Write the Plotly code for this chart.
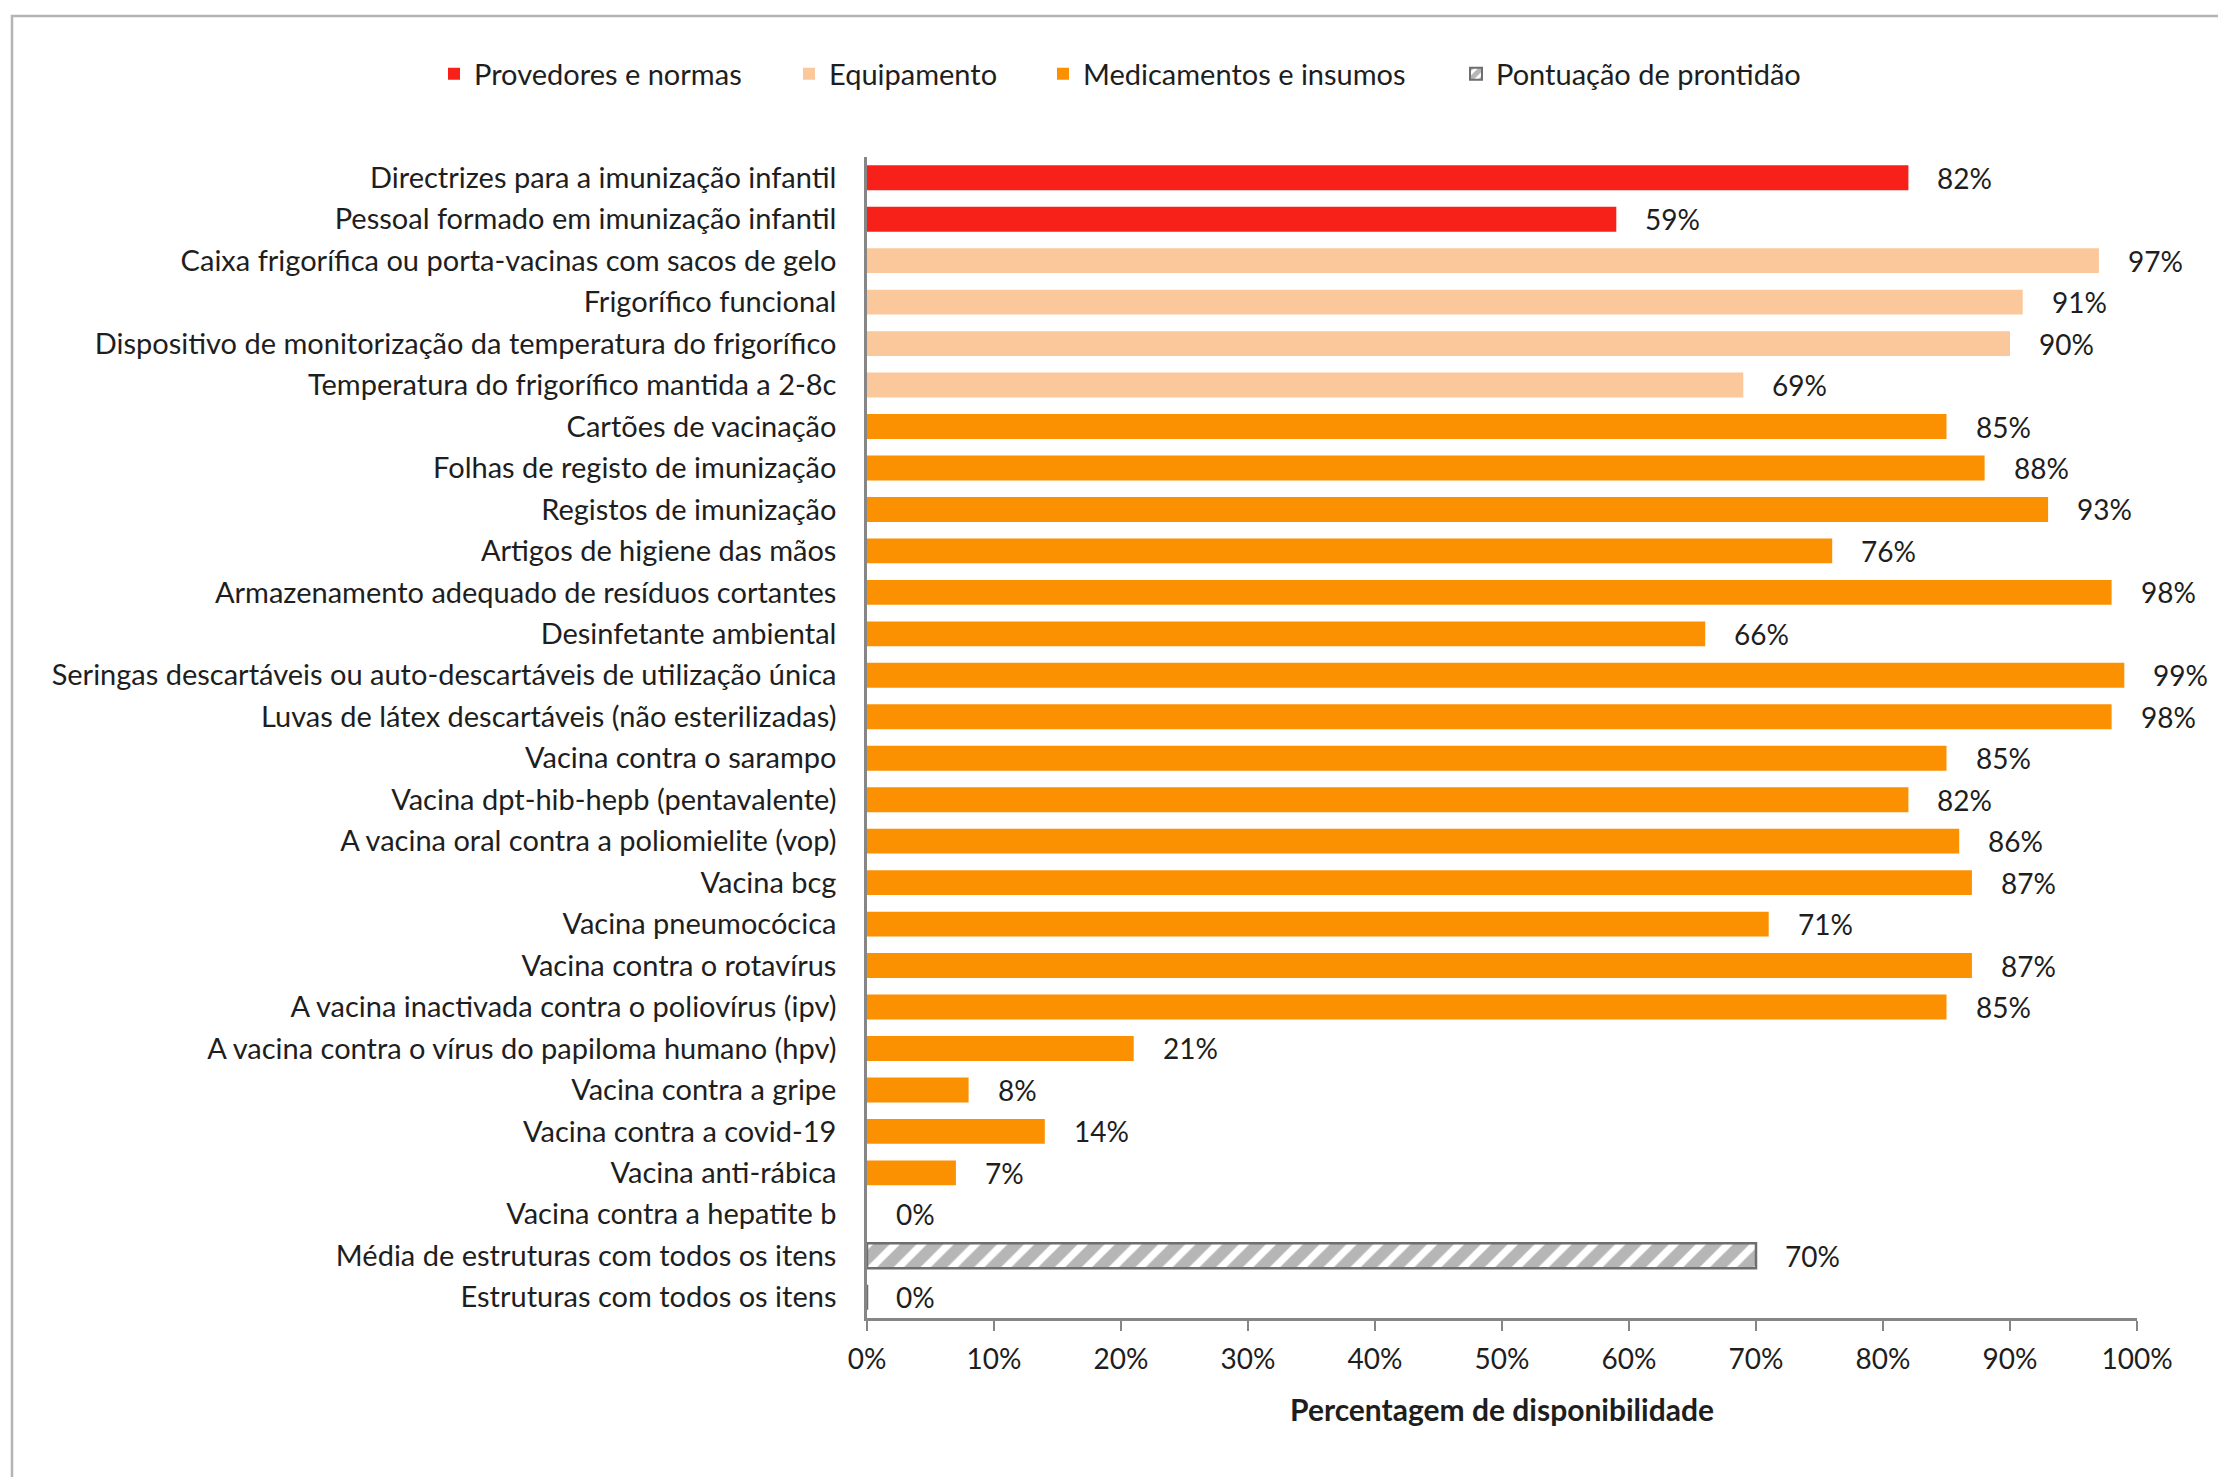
import plotly.graph_objects as go

categories = [
    "Directrizes para a imunização infantil",
    "Pessoal formado em imunização infantil",
    "Caixa frigorífica ou porta-vacinas com sacos de gelo",
    "Frigorífico funcional",
    "Dispositivo de monitorização da temperatura do frigorífico",
    "Temperatura do frigorífico mantida a 2-8c",
    "Cartões de vacinação",
    "Folhas de registo de imunização",
    "Registos de imunização",
    "Artigos de higiene das mãos",
    "Armazenamento adequado de resíduos cortantes",
    "Desinfetante ambiental",
    "Seringas descartáveis ou auto-descartáveis de utilização única",
    "Luvas de látex descartáveis (não esterilizadas)",
    "Vacina contra o sarampo",
    "Vacina dpt-hib-hepb (pentavalente)",
    "A vacina oral contra a poliomielite (vop)",
    "Vacina bcg",
    "Vacina pneumocócica",
    "Vacina contra o rotavírus",
    "A vacina inactivada contra o poliovírus (ipv)",
    "A vacina contra o vírus do papiloma humano (hpv)",
    "Vacina contra a gripe",
    "Vacina contra a covid-19",
    "Vacina anti-rábica",
    "Vacina contra a hepatite b",
    "Média de estruturas com todos os itens",
    "Estruturas com todos os itens",
]

values = [82, 59, 97, 91, 90, 69, 85, 88, 93, 76, 98, 66, 99, 98,
          85, 82, 86, 87, 71, 87, 85, 21, 8, 14, 7, 0, 70, 0]

groups = (["Provedores e normas"] * 2 + ["Equipamento"] * 4 +
          ["Medicamentos e insumos"] * 20 + ["Pontuação de prontidão"] * 2)

group_order = ["Provedores e normas", "Equipamento",
               "Medicamentos e insumos", "Pontuação de prontidão"]

colors = {
    "Provedores e normas": "#F7211A",
    "Equipamento": "#FAC89A",
    "Medicamentos e insumos": "#FB9000",
    "Pontuação de prontidão": "#FFFFFF",
}

x_ticks = list(range(0, 101, 10))
x_tick_labels = [f"{t}%" for t in x_ticks]

FONT = "Lato"
TXT = "#1e1e1e"
FS = 29
FS_NUM = 28

# plot area in figure px: x 859..2129, y 149..1310
L, R, T, B = 859, 97, 149, 167
PW = 2226 - L - R
PH = 1477 - T - B


def px_to_paper_x(px):
    return (px - L) / PW


def px_to_paper_y(py):
    return (1477 - B - py) / PH


legend_names = ["legend", "legend2", "legend3", "legend4"]
legend_sym_x = [446, 801, 1055, 1468]  # target symbol centers (figure px)

fig = go.Figure()
for g, lg in zip(group_order, legend_names):
    ys = [c for c, gg in zip(categories, groups) if gg == g]
    xs = [v for v, gg in zip(values, groups) if gg == g]
    if g == "Pontuação de prontidão":
        marker = dict(color="#FFFFFF",
                      line=dict(color="#6e6e6e", width=2.5),
                      pattern=dict(shape="/", fgcolor="#6e6e6e", bgcolor="#FFFFFF",
                                   size=19, solidity=0.62))
    else:
        marker = dict(color=colors[g], line=dict(width=0))
    fig.add_trace(go.Bar(
        x=xs, y=ys, orientation="h", name=g, marker=marker,
        legend=lg, hoverinfo="x+y",
    ))

for c, v in zip(categories, values):
    fig.add_annotation(x=v, y=c, text=f"{v}%", showarrow=False,
                       xanchor="left", xshift=27,
                       font=dict(family=FONT, size=FS_NUM, color=TXT))

# outer frame
fig.add_shape(type="rect", xref="paper", yref="paper",
              x0=px_to_paper_x(4), x1=px_to_paper_x(2215),
              y0=px_to_paper_y(1500), y1=px_to_paper_y(8),
              line=dict(color="#b4b4b4", width=2.5), fillcolor="rgba(0,0,0,0)",
              layer="below")

legend_common = dict(orientation="h", yanchor="middle", y=px_to_paper_y(66),
                     xanchor="left",
                     font=dict(family=FONT, size=FS, color=TXT),
                     itemwidth=30, itemsizing="constant",
                     bgcolor="rgba(0,0,0,0)", borderwidth=0)

layout_legends = {}
for lg, sx in zip(legend_names, legend_sym_x):
    layout_legends[lg] = dict(legend_common, x=px_to_paper_x(sx - 20))

fig.update_layout(
    width=2226, height=1477,
    margin=dict(l=L, r=R, t=T, b=B),
    paper_bgcolor="white", plot_bgcolor="white",
    barmode="overlay", bargap=0.4,
    font=dict(family=FONT, size=FS, color=TXT),
    showlegend=True,
    xaxis=dict(range=[0, 100], tickvals=x_ticks, ticktext=x_tick_labels,
               showgrid=False, zeroline=False,
               showline=True, linecolor="#868686", linewidth=2.5,
               ticks="outside", ticklen=10, tickcolor="#868686", tickwidth=2,
               tickfont=dict(family=FONT, size=FS_NUM, color=TXT),
               ticklabelstandoff=5,
               title=dict(text="<b>Percentagem de disponibilidade</b>",
                          font=dict(family=FONT, size=30, color=TXT), standoff=26),
               fixedrange=True),
    yaxis=dict(categoryorder="array", categoryarray=categories,
               autorange="reversed", showgrid=False, zeroline=False,
               showline=True, linecolor="#868686", linewidth=2.5,
               ticks="", ticklabelstandoff=22,
               tickfont=dict(family=FONT, size=FS, color=TXT),
               fixedrange=True),
    **layout_legends,
)

fig.write_html("out.html")
